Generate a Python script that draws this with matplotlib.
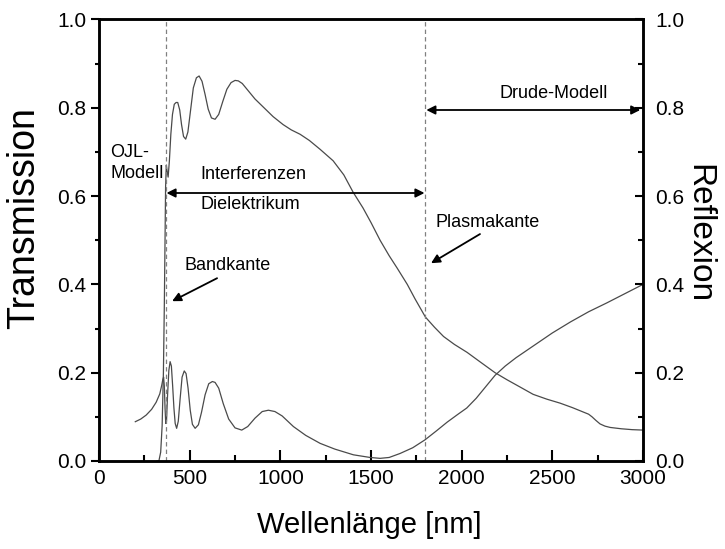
import matplotlib
matplotlib.use("Agg")
import matplotlib.pyplot as plt
from matplotlib.ticker import MultipleLocator

plt.rcParams['font.family'] = ['Liberation Sans', 'DejaVu Sans']

# Transmission spectrum (wavelength in nm, transmission)
t_wl = [320, 330, 340, 348, 355, 360, 364, 367, 371, 376, 381, 388, 396, 405,
        415, 425, 434, 445, 455, 466, 478, 490, 505, 520, 537, 552, 568, 585,
        602, 620, 640, 660, 683, 705, 728, 750, 768, 790, 820, 860, 905, 960,
        1015, 1060, 1109, 1160, 1219, 1291, 1350, 1401, 1456, 1500, 1550, 1600,
        1644, 1700, 1743, 1800, 1850, 1900, 1960, 2030, 2100, 2184, 2250, 2320,
        2394, 2470, 2543, 2610, 2670, 2700, 2719, 2740, 2763, 2790, 2819, 2880,
        2940, 3000]
t_val = [0.0, 0.0, 0.02, 0.08, 0.20, 0.35, 0.50, 0.62, 0.67, 0.655, 0.643, 0.68,
         0.74, 0.785, 0.808, 0.812, 0.812, 0.795, 0.762, 0.735, 0.729, 0.745,
         0.795, 0.845, 0.868, 0.872, 0.86, 0.83, 0.797, 0.777, 0.774, 0.785,
         0.815, 0.842, 0.857, 0.862, 0.861, 0.855, 0.84, 0.82, 0.802, 0.78,
         0.762, 0.750, 0.740, 0.726, 0.706, 0.680, 0.648, 0.609, 0.573, 0.54,
         0.50, 0.465, 0.437, 0.40, 0.367, 0.326, 0.303, 0.282, 0.264, 0.246,
         0.225, 0.200, 0.184, 0.168, 0.151, 0.140, 0.131, 0.121, 0.111, 0.106,
         0.100, 0.092, 0.084, 0.079, 0.076, 0.073, 0.071, 0.070]

# Reflection spectrum (wavelength in nm, reflection)
r_wl = [200, 230, 260, 290, 315, 335, 346, 352, 356, 360, 364, 368, 372, 378,
        385, 392, 399, 406, 413, 420, 428, 437, 447, 458, 470, 480, 491, 503,
        515, 530, 548, 565, 585, 605, 625, 640, 660, 685, 715, 750, 787, 820,
        860, 900, 934, 970, 1010, 1072, 1140, 1219, 1300, 1403, 1495, 1550,
        1600, 1660, 1730, 1798, 1860, 1920, 1980, 2028, 2080, 2130, 2184, 2240,
        2300, 2400, 2500, 2600, 2700, 2800, 2900, 3000]
r_val = [0.089, 0.095, 0.104, 0.117, 0.133, 0.152, 0.172, 0.185, 0.19, 0.17,
         0.12, 0.085, 0.09, 0.15, 0.205, 0.225, 0.215, 0.17, 0.12, 0.085, 0.074,
         0.09, 0.14, 0.19, 0.204, 0.198, 0.165, 0.115, 0.083, 0.074, 0.082,
         0.11, 0.15, 0.175, 0.18, 0.178, 0.165, 0.13, 0.095, 0.075, 0.070,
         0.078, 0.097, 0.112, 0.115, 0.112, 0.102, 0.078, 0.058, 0.040, 0.027,
         0.014, 0.008, 0.006, 0.008, 0.017, 0.03, 0.048, 0.068, 0.088, 0.106,
         0.120, 0.142, 0.167, 0.194, 0.215, 0.234, 0.262, 0.290, 0.315, 0.338,
         0.358, 0.379, 0.400]

# Region boundaries (nm)
band_edge = 370
plasma_edge = 1800

x_ticks = [0, 500, 1000, 1500, 2000, 2500, 3000]
y_ticks = [0.0, 0.2, 0.4, 0.6, 0.8, 1.0]

fig = plt.figure(figsize=(7.25, 5.49), dpi=100)
ax = fig.add_axes([0.1366, 0.1603, 0.7503, 0.8042])
ax2 = ax.twinx()

line_kw = dict(color='#4a4a4a', lw=0.9)
ax.plot(t_wl, t_val, **line_kw)
ax.plot(r_wl, r_val, **line_kw)

for xv in (band_edge, plasma_edge):
    ax.axvline(xv, color='#808080', lw=0.9, ls=(0, (3.5, 2.5)))

ax.set_xlim(0, 3000)
ax.set_ylim(0, 1)
ax2.set_ylim(0, 1)

ax.set_xticks(x_ticks)
ax.set_yticks(y_ticks)
ax.set_yticklabels([f"{v:.1f}" for v in y_ticks])
ax2.set_yticks(y_ticks)
ax2.set_yticklabels([f"{v:.1f}" for v in y_ticks])
ax.xaxis.set_minor_locator(MultipleLocator(250))
ax.yaxis.set_minor_locator(MultipleLocator(0.1))
ax2.yaxis.set_minor_locator(MultipleLocator(0.1))

for a in (ax, ax2):
    for s in a.spines.values():
        s.set_linewidth(1.8)

ax.tick_params(axis='x', which='major', direction='in', length=8, width=1.5,
               labelsize=15, pad=6)
ax.tick_params(axis='x', which='minor', direction='in', length=4.5, width=1.5)
ax.tick_params(axis='y', which='major', direction='out', length=6, width=1.5,
               labelsize=15, pad=3)
ax.tick_params(axis='y', which='minor', direction='out', length=3, width=1.5)
ax2.tick_params(axis='y', which='major', direction='in', length=6, width=1.5,
                labelsize=15, pad=9)
ax2.tick_params(axis='y', which='minor', direction='in', length=3.5, width=1.5)

ax.set_xlabel("Wellenlänge [nm]", fontsize=21, va='center', ha='center')
ax.xaxis.set_label_coords(0.496, -0.145)
ax.set_ylabel("Transmission", fontsize=27, va='center', ha='center')
ax.yaxis.set_label_coords(-0.138, 0.55)
ax2.set_ylabel("Reflexion", fontsize=24, rotation=-90, va='center', ha='center')
ax2.yaxis.set_label_coords(1.102, 0.515)

txt = dict(fontsize=13, color='black')
ax.text(61, 0.675, "OJL-\nModell", ha='left', va='center', linespacing=1.25, **txt)
ax.text(557, 0.65, "Interferenzen", ha='left', va='center', **txt)
ax.text(557, 0.582, "Dielektrikum", ha='left', va='center', **txt)
ax.text(2206, 0.833, "Drude-Modell", ha='left', va='center', **txt)
ax.text(474, 0.442, "Bandkante", ha='left', va='center', **txt)
ax.text(1853, 0.541, "Plasmakante", ha='left', va='center', **txt)

dbl = dict(arrowstyle='<|-|>', color='black', lw=1.3, mutation_scale=13,
           shrinkA=0, shrinkB=0)
ax.annotate("", xy=(372, 0.607), xytext=(1795, 0.607), arrowprops=dbl)
ax.annotate("", xy=(1805, 0.795), xytext=(2985, 0.795), arrowprops=dbl)

single = dict(arrowstyle='-|>', color='black', lw=1.3, mutation_scale=13,
              shrinkA=0, shrinkB=0)
ax.annotate("", xy=(403, 0.362), xytext=(651, 0.414), arrowprops=single)
ax.annotate("", xy=(1831, 0.448), xytext=(2101, 0.514), arrowprops=single)

fig.savefig("out.png", dpi=100)
